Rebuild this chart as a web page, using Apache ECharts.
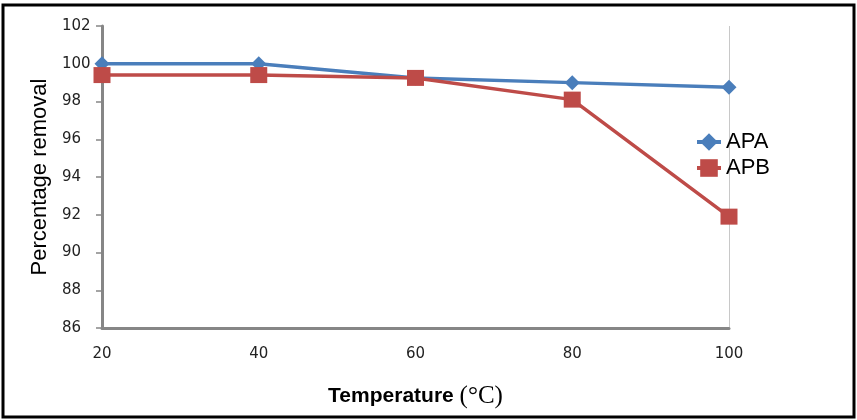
<!DOCTYPE html>
<html>
<head>
<meta charset="utf-8">
<script src="https://cdn.jsdelivr.net/npm/echarts@6/dist/echarts.min.js"></script>
<style>
  html, body { margin: 0; padding: 0; background: #ffffff; }
  #chart { width: 857px; height: 420px; }
</style>
</head>
<body>
<div id="chart"></div>
<script>
// temperature (°C) categories
const temps = ['20', '40', '60', '80', '100'];
// percentage removal
const apa = [100, 100, 99.25, 99.0, 98.75];
const apb = [99.4, 99.4, 99.25, 98.1, 91.9];
const yMin = 86;
const yMax = 102;
const yStep = 2;

const chart = echarts.init(document.getElementById('chart'));
chart.setOption({
  animation: false,
  backgroundColor: '#ffffff',
  graphic: [
    {
      type: 'rect',
      shape: { x: 3, y: 5, width: 851, height: 412 },
      style: { fill: 'none', stroke: '#000000', lineWidth: 3 },
      silent: true
    }
  ],
  grid: {
    left: 102,
    right: 128,
    top: 26,
    bottom: 92
  },
  legend: {
    orient: 'vertical',
    left: 690,
    top: 126,
    itemWidth: 24,
    itemHeight: 22,
    itemGap: 4,
    lineStyle: { width: 4 },
    textStyle: {
      fontFamily: 'Liberation Sans',
      fontSize: 22,
      color: '#000000'
    },
    data: ['APA', 'APB']
  },
  xAxis: {
    type: 'category',
    data: temps,
    boundaryGap: false,
    name: '{a|Temperature }{b|(°C)}',
    nameLocation: 'middle',
    nameGap: 56,
    nameTextStyle: {
      rich: {
        a: { fontFamily: 'Liberation Sans', fontWeight: 'bold', fontSize: 21, color: '#000000' },
        b: { fontFamily: 'Liberation Serif', fontSize: 25, color: '#000000' }
      }
    },
    axisLine: { lineStyle: { color: '#868686', width: 3 } },
    axisTick: { show: false },
    axisLabel: {
      margin: 19,
      fontFamily: 'DejaVu Sans',
      fontSize: 15,
      color: '#222222'
    },
    splitLine: {
      show: true,
      interval: function (i) { return i === temps.length - 1; },
      lineStyle: { color: '#c8c8c8', width: 1 }
    }
  },
  yAxis: {
    type: 'value',
    min: yMin,
    max: yMax,
    interval: yStep,
    name: 'Percentage removal',
    nameLocation: 'middle',
    nameGap: 43,
    nameTextStyle: {
      fontFamily: 'Liberation Sans',
      fontSize: 22,
      color: '#000000'
    },
    axisLine: { show: true, lineStyle: { color: '#868686', width: 3 } },
    axisTick: { show: true, length: 6, lineStyle: { color: '#868686', width: 1.5 } },
    axisLabel: {
      margin: 40,
      align: 'left',
      fontFamily: 'DejaVu Sans',
      fontSize: 15,
      color: '#222222'
    },
    splitLine: { show: false }
  },
  series: [
    {
      name: 'APA',
      type: 'line',
      data: apa,
      symbol: 'diamond',
      symbolSize: [15, 15],
      lineStyle: { color: '#4a7ebb', width: 3.5 },
      itemStyle: { color: '#4a7ebb' }
    },
    {
      name: 'APB',
      type: 'line',
      data: apb,
      symbol: 'rect',
      symbolSize: [17, 16],
      lineStyle: { color: '#be4b48', width: 3.5 },
      itemStyle: { color: '#be4b48' }
    }
  ]
});
</script>
</body>
</html>
